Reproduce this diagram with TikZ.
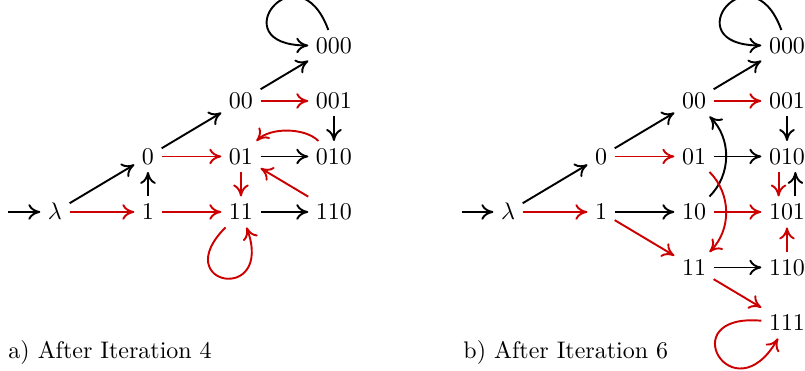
\documentclass[tikz,border=0pt]{standalone}
\usetikzlibrary{arrows.meta}
\definecolor{movered}{RGB}{204,0,0}
\tikzset{
    state/.style = {inner sep = 3pt, text height = 6.5pt, text depth = 0pt},
    move/.style = {thick, -{Computer Modern Rightarrow[length = 5pt, width = 6.5pt]}},
    newmove/.style = {move, movered},
    caption/.style = {anchor = base west, inner sep = 0pt}
}
\begin{document}
\begin{tikzpicture}
            \useasboundingbox (0, 0) rectangle (11.8, 5.438);

            \begin{scope} [shift = {(0.806cm, 2.331cm)}, x = 1.363cm, y = 0.8135cm]
            \coordinate (aS) at (-0.5, 0);
            \node [state] (aL) at (0, 0) {$\lambda$};
            \node [state] (a0) at (1, 1) {0};
            \node [state] (a1) at (1, 0) {1};
            \node [state] (a00) at (2, 2) {00};
            \node [state] (a01) at (2, 1) {01};
            \node [state] (a11) at (2, 0) {11};
            \node [state] (a000) at (3, 3) {000};
            \node [state] (a001) at (3, 2) {001};
            \node [state] (a010) at (3, 1) {010};
            \node [state] (a110) at (3, 0) {110};

            \draw [move] (aS) -- (aL);
            \draw [move] (aL) -- (a0);
            \draw [newmove] (aL) -- (a1);
            \draw [move] (a1) -- (a0);
            \draw [move] (a0) -- (a00);
            \draw [newmove] (a0) -- (a01);
            \draw [newmove] (a1) -- (a11);
            \draw [move] (a00) -- (a000);
            \draw [newmove] (a00) -- (a001);
            \draw [move] (a000) to [out = 110, in = 180, looseness = 9] (a000);
            \draw [move] (a001) -- (a010);
            \draw [move] (a01) -- (a010);
            \draw [newmove] (a010) to [out = 135, in = 45, looseness = 0.8] (a01);
            \draw [newmove] (a01) -- (a11);
            \draw [newmove] (a110) -- (a01);
            \draw [move] (a11) -- (a110);
            \draw [newmove] (a11) to [out = 225, in = -70, looseness = 10] (a11);
            \end{scope}

            \begin{scope} [shift = {(7.447cm, 2.331cm)}, x = 1.363cm, y = 0.8135cm]
            \coordinate (bS) at (-0.5, 0);
            \node [state] (bL) at (0, 0) {$\lambda$};
            \node [state] (b0) at (1, 1) {0};
            \node [state] (b1) at (1, 0) {1};
            \node [state] (b00) at (2, 2) {00};
            \node [state] (b01) at (2, 1) {01};
            \node [state] (b10) at (2, 0) {10};
            \node [state] (b11) at (2, -1) {11};
            \node [state] (b000) at (3, 3) {000};
            \node [state] (b001) at (3, 2) {001};
            \node [state] (b010) at (3, 1) {010};
            \node [state] (b101) at (3, 0) {101};
            \node [state] (b110) at (3, -1) {110};
            \node [state] (b111) at (3, -2) {111};

            \draw [move] (bS) -- (bL);
            \draw [move] (bL) -- (b0);
            \draw [newmove] (bL) -- (b1);
            \draw [move] (b0) -- (b00);
            \draw [newmove] (b0) -- (b01);
            \draw [move] (b1) -- (b10);
            \draw [newmove] (b1) -- (b11);
            \draw [move] (b00) -- (b000);
            \draw [newmove] (b00) -- (b001);
            \draw [move] (b000) to [out = 110, in = 180, looseness = 9] (b000);
            \draw [move] (b001) -- (b010);
            \draw [move] (b01) -- (b010);
            \draw [move] (b10) to [bend right = 45] (b00);
            \draw [newmove] (b01) to [bend left = 45] (b11);
            \draw [newmove] (b10) -- (b101);
            \draw [newmove] ([xshift = -3.5pt] b010.south) -- ([xshift = -3.5pt] b101.north);
            \draw [move] ([xshift = 3.5pt] b101.north) -- ([xshift = 3.5pt] b010.south);
            \draw [newmove] (b110) -- (b101);
            \draw [move] (b11) -- (b110);
            \draw [newmove] (b11) -- (b111);
            \draw [newmove] (b111) to [out = 175, in = 240, looseness = 9.5] (b111);
            \end{scope}

            \node [caption] (capA) at (0.117, 0.19) {a) After Iteration 4};
            \node [caption] (capB) at (6.787, 0.19) {b) After Iteration 6};
        \end{tikzpicture}
\end{document}
